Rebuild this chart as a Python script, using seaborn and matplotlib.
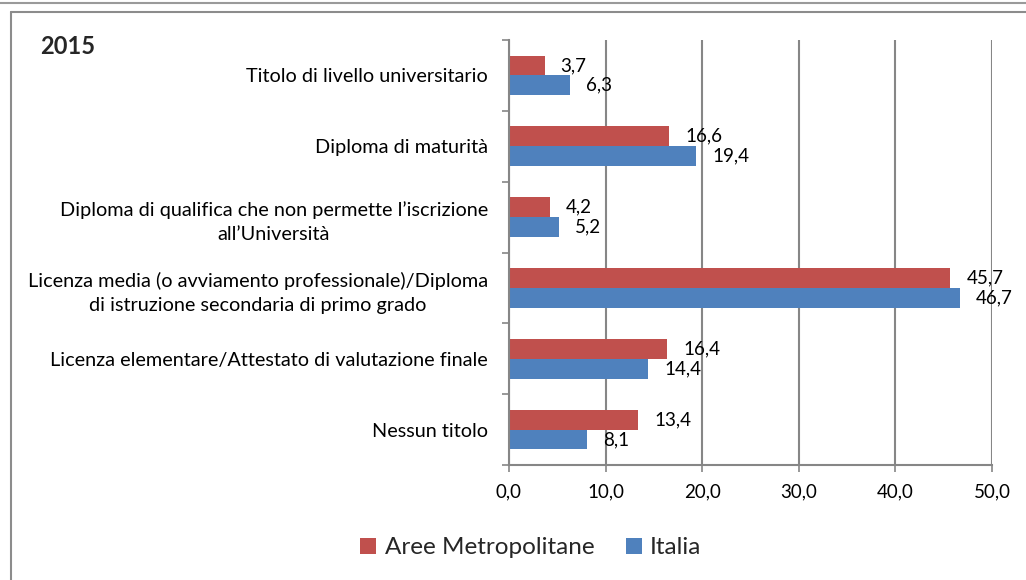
import matplotlib
matplotlib.use("Agg")
import matplotlib.pyplot as plt
import seaborn as sns
import pandas as pd
from matplotlib.lines import Line2D
from matplotlib.patches import Patch

categories = [
    "Titolo di livello universitario",
    "Diploma di maturità",
    "Diploma di qualifica che non permette l’iscrizione\nall’Università",
    "Licenza media (o avviamento professionale)/Diploma\ndi istruzione secondaria di primo grado",
    "Licenza elementare/Attestato di valutazione finale",
    "Nessun titolo",
]
aree_metropolitane = [3.7, 16.6, 4.2, 45.7, 16.4, 13.4]
italia = [6.3, 19.4, 5.2, 46.7, 14.4, 8.1]
series_names = ["Aree Metropolitane", "Italia"]
x_ticks = [0, 10, 20, 30, 40, 50]
title = "2015"

colors = {"Aree Metropolitane": "#C0504D", "Italia": "#4F81BD"}

df = pd.DataFrame({
    "categoria": categories * 2,
    "valore": aree_metropolitane + italia,
    "serie": [series_names[0]] * len(categories) + [series_names[1]] * len(categories),
})

sns.set_theme(style="white")
plt.rcParams["font.family"] = ["Lato", "DejaVu Sans"]

fig = plt.figure(figsize=(10.26, 5.8), dpi=100)
ax = fig.add_axes([509 / 1026, 1 - 465 / 580, (992 - 509) / 1026, (465 - 40) / 580])

sns.barplot(data=df, y="categoria", x="valore", hue="serie", order=categories,
            hue_order=series_names, palette=colors, orient="h", width=0.56,
            dodge=True, ax=ax, legend=False, saturation=1, linewidth=0)

ax.set_xlim(0, 50)
ax.set_ylim(len(categories) - 0.5, -0.5)
ax.set_xticks(x_ticks)
ax.set_xticklabels([f"{v:.1f}".replace(".", ",") for v in x_ticks], fontsize=13.5, color="black")
ax.set_xlabel("")
ax.set_ylabel("")
ax.grid(axis="x", color="#868686", linewidth=1.5)
ax.set_axisbelow(True)

# category labels with boundary tick marks
ax.set_yticks(range(len(categories)))
ax.set_yticklabels(categories, fontsize=14.3, color="black", multialignment="center",
                   linespacing=1.5)
ax.tick_params(axis="y", which="major", length=0, pad=15)
ax.set_yticks([i - 0.5 for i in range(len(categories) + 1)], minor=True)
ax.tick_params(axis="y", which="minor", length=5, width=1.2, color="#868686", left=True)
ax.tick_params(axis="x", which="major", length=5, width=1.2, color="#868686", bottom=True, pad=8)

for side in ["top", "right"]:
    ax.spines[side].set_visible(False)
for side in ["left", "bottom"]:
    ax.spines[side].set_color("#868686")
    ax.spines[side].set_linewidth(1.5)

# data labels
for container, vals in zip(ax.containers, [aree_metropolitane, italia]):
    for bar, v in zip(container, vals):
        ax.annotate(f"{v:.1f}".replace(".", ","),
                    xy=(bar.get_width(), bar.get_y() + bar.get_height() / 2),
                    xytext=(11.5, 0), textcoords="offset points",
                    ha="left", va="center", fontsize=13.5, color="black",
                    annotation_clip=False)

fig.text(40 / 1026, 1 - 47 / 580, title, fontsize=17, fontweight="bold",
         ha="left", va="center")

handles = [Patch(facecolor=colors[s], edgecolor="none", label=s) for s in series_names]
fig.legend(handles=handles, loc="center", bbox_to_anchor=(531 / 1026, 1 - 548 / 580),
           ncol=2, frameon=False, fontsize=17.5, handlelength=0.65, handleheight=0.65,
           handletextpad=0.35, columnspacing=1.3)

# chart-area borders
fig.add_artist(Line2D([0, 1], [1 - 2.5 / 580, 1 - 2.5 / 580], color="#9a9a9a", linewidth=1.5,
                      transform=fig.transFigure))
fig.add_artist(Line2D([11 / 1026, 1], [1 - 11.5 / 580, 1 - 11.5 / 580], color="#8c8c8c",
                      linewidth=1.5, transform=fig.transFigure))
fig.add_artist(Line2D([11 / 1026, 11 / 1026], [0, 1 - 11.5 / 580], color="#8c8c8c",
                      linewidth=1.5, transform=fig.transFigure))

fig.savefig("out.png", dpi=100, facecolor="white")
